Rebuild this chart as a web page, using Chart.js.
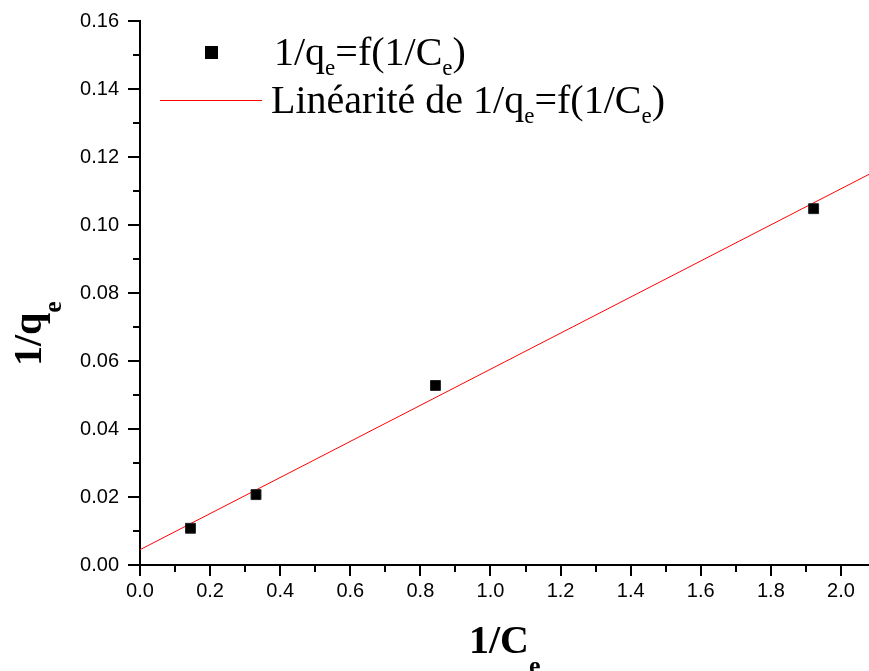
<!DOCTYPE html>
<html>
<head>
<meta charset="utf-8">
<script src="https://cdn.jsdelivr.net/npm/chart.js@4.4.0/dist/chart.umd.min.js"></script>
<style>
  html, body { margin: 0; padding: 0; background: #fff; }
  #wrap { width: 869px; height: 671px; }
</style>
</head>
<body>
<div id="wrap"><canvas id="chart"></canvas></div>
<script>
// Measured points: 1/Ce against 1/qe
const invCe = [0.144, 0.331, 0.843, 1.922];
const invQe = [0.0108, 0.0207, 0.0528, 0.1048];

// End points of the fitted straight line
const fitX = [0, 2.08];
const fitY = [0.0045, 0.1149];

// Major tick values on both axes
const xTickValues = [0, 0.2, 0.4, 0.6, 0.8, 1.0, 1.2, 1.4, 1.6, 1.8, 2.0];
const yTickValues = [0, 0.02, 0.04, 0.06, 0.08, 0.10, 0.12, 0.14, 0.16];

const serif = "'Liberation Serif', 'Times New Roman', serif";

// writes a run of text pieces, some of them lowered as subscripts
function drawRuns(ctx, runs, x, y, size, bold, subSize, subShift) {
    const w = bold ? 'bold ' : '';
    ctx.textAlign = 'left';
    ctx.textBaseline = 'alphabetic';
    runs.forEach(([txt, sub]) => {
        ctx.font = w + (sub ? subSize : size) + 'px ' + serif;
        ctx.fillText(txt, x, sub ? y + subShift : y);
        x += ctx.measureText(txt).width;
    });
}

// minor ticks, legend and axis titles
const decorations = {
    id: 'decorations',
    afterDraw(chart) {
        const { ctx, scales: { x, y }, chartArea } = chart;
        ctx.save();
        ctx.strokeStyle = '#000';
        ctx.lineWidth = 2;
        for (let i = 0; i < xTickValues.length - 1; i++) {
            const px = Math.round(x.getPixelForValue((xTickValues[i] + xTickValues[i + 1]) / 2));
            ctx.beginPath();
            ctx.moveTo(px, chartArea.bottom);
            ctx.lineTo(px, chartArea.bottom + 7);
            ctx.stroke();
        }
        for (let i = 0; i < yTickValues.length - 1; i++) {
            const py = Math.round(y.getPixelForValue((yTickValues[i] + yTickValues[i + 1]) / 2));
            ctx.beginPath();
            ctx.moveTo(chartArea.left, py);
            ctx.lineTo(chartArea.left - 7, py);
            ctx.stroke();
        }

        // legend
        ctx.fillStyle = '#000';
        ctx.fillRect(205, 46, 13, 13);
        ctx.strokeStyle = '#ff0000';
        ctx.lineWidth = 1;
        ctx.beginPath();
        ctx.moveTo(160, 100.5);
        ctx.lineTo(262, 100.5);
        ctx.stroke();
        drawRuns(ctx, [['1/q', false], ['e', true], ['=f(1/C', false], ['e', true], [')', false]],
            274, 65, 40, false, 23, 10);
        drawRuns(ctx, [['Linéarité de 1/q', false], ['e', true], ['=f(1/C', false], ['e', true], [')', false]],
            271, 113, 40, false, 23, 10);

        // x axis title
        drawRuns(ctx, [['1/C', false], ['e', true]], 469, 653, 40, true, 26, 21);

        // y axis title
        ctx.save();
        ctx.translate(41, 366);
        ctx.rotate(-Math.PI / 2);
        drawRuns(ctx, [['1/q', false], ['e', true]], 0, 0, 40, true, 26, 20);
        ctx.restore();

        ctx.restore();
    }
};

new Chart(document.getElementById('chart'), {
    type: 'scatter',
    plugins: [decorations],
    data: {
        datasets: [
            {
                label: '1/qe=f(1/Ce)',
                data: invCe.map((v, i) => ({ x: v, y: invQe[i] })),
                pointStyle: 'rect',
                pointRadius: 7,
                backgroundColor: '#000',
                borderColor: '#222',
                borderWidth: 1,
                order: 1
            },
            {
                type: 'line',
                label: 'Linéarité de 1/qe=f(1/Ce)',
                data: fitX.map((v, i) => ({ x: v, y: fitY[i] })),
                borderColor: '#ff0000',
                borderWidth: 1,
                pointRadius: 0,
                fill: false,
                order: 2
            }
        ]
    },
    options: {
        responsive: true,
        maintainAspectRatio: false,
        animation: false,
        layout: { autoPadding: false, padding: { top: 19, right: 0, left: 0, bottom: 0 } },
        plugins: {
            legend: { display: false },
            tooltip: { enabled: false }
        },
        scales: {
            x: {
                type: 'linear',
                min: 0,
                max: 2.08,
                afterBuildTicks: (s) => { s.ticks = xTickValues.map(v => ({ value: v })); },
                afterFit: (s) => { s.height = 106; s.paddingRight = 0; s.paddingLeft = 0; },
                grid: { drawOnChartArea: false, drawTicks: true, tickLength: 11, color: '#000', lineWidth: 2 },
                border: { display: true, color: '#000', width: 2 },
                ticks: {
                    color: '#000',
                    padding: 3,
                    maxRotation: 0,
                    autoSkip: false,
                    font: { family: "'Liberation Sans', Arial, sans-serif", size: 20 },
                    callback: (v) => v.toFixed(1)
                }
            },
            y: {
                type: 'linear',
                min: 0,
                max: 0.16,
                afterBuildTicks: (s) => { s.ticks = yTickValues.map(v => ({ value: v })); },
                afterFit: (s) => { s.width = 140; },
                grid: { drawOnChartArea: false, drawTicks: true, tickLength: 12, color: '#000', lineWidth: 2 },
                border: { display: true, color: '#000', width: 2 },
                ticks: {
                    color: '#000',
                    padding: 9,
                    autoSkip: false,
                    font: { family: "'Liberation Sans', Arial, sans-serif", size: 20 },
                    callback: (v) => v.toFixed(2)
                }
            }
        }
    }
});
</script>
</body>
</html>
